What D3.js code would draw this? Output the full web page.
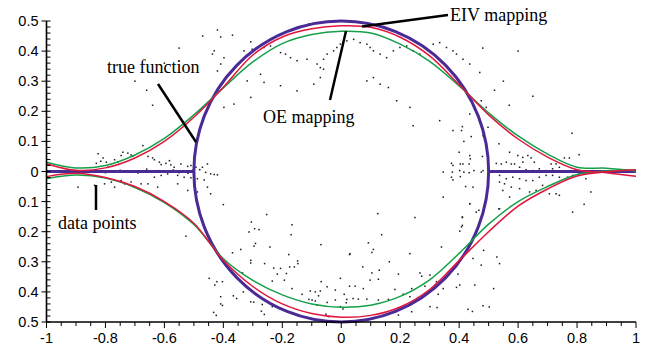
<!DOCTYPE html>
<html><head><meta charset="utf-8">
<script src="https://cdn.jsdelivr.net/npm/d3@7"></script>
<style>body{margin:0;background:#fff}svg{display:block}</style>
</head><body>
<svg id="c" width="648" height="348"></svg>
<script>
// ---- data ----
const xs = [-1,-0.9,-0.8,-0.7,-0.6,-0.5,-0.4,-0.3,-0.2,-0.1,0,0.1,0.2,0.3,0.4,0.5,0.6,0.7,0.8,0.9,1];
const eivUpper = [0.026,0.004,0.012,0.045,0.10,0.18,0.28,0.387,0.447,0.474,0.484,0.479,0.446,0.384,0.288,0.188,0.108,0.048,0.006,-0.004,-0.016];
const eivLower = [-0.017,-0.006,-0.02,-0.05,-0.1,-0.172,-0.295,-0.382,-0.44,-0.472,-0.484,-0.478,-0.45,-0.392,-0.296,-0.2,-0.115,-0.058,-0.015,-0.001,0.006];
const oeUpper = [0.031,0.012,0.02,0.055,0.11,0.188,0.278,0.364,0.425,0.455,0.466,0.46,0.423,0.366,0.284,0.195,0.118,0.058,0.014,0.011,0.002];
const oeLower = [-0.024,-0.012,-0.022,-0.053,-0.103,-0.176,-0.29,-0.362,-0.41,-0.44,-0.451,-0.444,-0.415,-0.36,-0.272,-0.175,-0.1,-0.05,-0.01,0.002,0.004];
const trueCircle = {cx:0, cy:0, r:0.5};
const trueLeft = [[-1,0],[-0.5,0]];
const trueRight = [[0.5,0],[1,0]];
const xTickLabels = ["-1","-0.8","-0.6","-0.4","-0.2","0","0.2","0.4","0.6","0.8","1"];
const xTickValues = [-1,-0.8,-0.6,-0.4,-0.2,0,0.2,0.4,0.6,0.8,1];
const yTickValues = [0.5,0.4,0.3,0.2,0.1,0,-0.1,-0.2,-0.3,-0.4,-0.5];
const yTickLabels = ["0.5","0.4","0.3","0.2","0.1","0","0.1","0.2","0.3","0.4","0.5"];
const dataX = [
-0.409,-0.369,-0.307,-0.431,-0.437,-0.398,-0.33,-0.302,-0.262,-0.24,-0.206,-0.189,-0.172,-0.15,-0.116,-0.082,-0.071,-0.06,-0.048,-0.026,-0.015,-0.003,0.019,0.042,0.064,0.087,0.098,0.109,0.132,0.154,0.177,0.199,0.222,0.244,0.267,0.29,0.312,0.334,0.357,0.379,0.391,0.413,0.436,0.47,0.475,0.492,-0.307,-0.262,-0.206,-0.15,-0.093,-0.071,-0.06,0.087,0.109,0.132,0.16,0.188,0.233,0.244,0.334,0.379,0.436,0.47,-0.398,-0.364,-0.319,-0.274,-0.42,-0.409,-0.11,
-0.7,-0.64,-0.66,-0.55,-0.47,-0.42,-0.6,0.55,0.57,0.52,0.6,0.48,0.65,
-0.4,-0.253,-0.527,-0.305,-0.294,-0.279,-0.313,-0.167,-0.17,-0.291,-0.296,-0.242,-0.341,-0.369,-0.307,-0.307,-0.26,-0.178,-0.148,-0.147,-0.159,-0.175,-0.206,-0.229,-0.186,-0.217,-0.193,-0.234,-0.335,-0.448,-0.422,-0.403,-0.429,-0.409,-0.409,-0.433,-0.366,-0.355,-0.332,-0.307,-0.268,-0.271,-0.234,-0.167,-0.133,-0.105,-0.088,-0.071,-0.02,-0.003,0.03,-0.069,-0.068,-0.048,-0.11,-0.099,-0.088,-0.077,-0.048,-0.02,0.017,-0.003,-0.082,-0.052,-0.043,
0.124,0.25,0.137,0.028,0.092,0.109,0.104,0.163,0.233,0.34,0.411,0.408,0.402,0.436,0.458,0.535,0.483,0.528,0.537,0.475,0.447,0.073,0.104,0.129,0.126,0.098,0.075,0.047,0.028,0.01,0.04,0.019,0.006,0.194,0.182,0.21,0.239,0.267,0.273,0.301,0.284,0.318,0.346,0.391,0.402,0.453,0.517,0.396,0.329,0.323,0.301,0.43,0.481,0.233,0.239,0.194,0.16,0.126,0.087,0.058,
-0.831,-0.816,-0.797,-0.769,-0.747,-0.741,-0.713,-0.707,-0.673,-0.656,-0.64,-0.634,-0.617,-0.611,-0.595,-0.583,-0.578,-0.567,-0.544,-0.521,-0.51,-0.493,-0.471,-0.454,-0.443,-0.431,-0.42,-0.634,-0.611,-0.589,-0.555,-0.533,-0.51,-0.488,-0.465,-0.454,-0.656,-0.679,-0.713,-0.747,-0.78,-0.803,-0.837,-0.769,-0.702,-0.623,-0.555,-0.521,-0.488,-0.443,
-0.62,-0.6,-0.57,-0.55,-0.53,-0.52,-0.505,-0.48,-0.46,-0.66,-0.69,-0.75,-0.8,
0.411,0.408,0.441,0.481,0.498,0.416,0.4,0.436,0.438,0.479,0.374,0.379,0.404,0.413,0.434,0.45,0.475,0.481,0.346,0.377,0.402,0.416,0.434,0.374,0.379,0.404,0.422,0.447,0.411,0.411,0.346,0.436,0.467,0.498,0.535,0.571,0.599,0.616,0.633,0.644,0.655,0.616,0.588,0.56,0.526,0.543,0.577,0.605,0.627,0.65,0.672,0.695,0.717,0.74,0.757,0.774,0.807,0.783,0.712,0.729,0.537,0.56,0.582,0.605,0.627,0.65,0.672,0.695,0.717,0.74,0.762,0.785,0.807,0.83,0.852,0.898,0.537,0.554,0.577,0.605,0.639,0.661,0.683,0.706,0.729,0.74,0.548,0.571,0.537,0.785,0.824,0.847,0.768,0.83,
-0.825,-0.808,-0.724,-0.758,-0.792,-0.735,-0.893,
-0.403,-0.424,-0.297,-0.261,0.325,0.445,0.502];
const dataY = [
0.447,0.453,0.431,0.401,0.39,0.378,0.401,0.406,0.412,0.417,0.395,0.39,0.378,0.368,0.373,0.357,0.345,0.373,0.39,0.401,0.412,0.423,0.434,0.439,0.428,0.423,0.412,0.401,0.39,0.378,0.401,0.412,0.417,0.401,0.39,0.406,0.423,0.428,0.412,0.401,0.39,0.373,0.357,0.329,0.235,0.213,0.246,0.296,0.285,0.268,0.29,0.312,0.34,0.301,0.312,0.29,0.279,0.235,0.213,0.152,0.169,0.136,0.191,0.169,0.213,0.224,0.301,0.323,0.334,0.357,0.49,
0.3,0.22,0.27,0.41,0.45,0.47,0.36,0.3,0.22,0.27,0.4,0.41,0.25,
-0.11,-0.143,-0.215,-0.168,-0.19,-0.193,-0.201,-0.177,-0.21,-0.239,-0.248,-0.251,-0.259,-0.27,-0.295,-0.304,-0.306,-0.276,-0.297,-0.306,-0.317,-0.317,-0.322,-0.321,-0.339,-0.341,-0.361,-0.364,-0.337,-0.355,-0.366,-0.366,-0.377,-0.416,-0.44,-0.468,-0.413,-0.422,-0.4,-0.433,-0.442,-0.464,-0.449,-0.389,-0.408,-0.397,-0.4,-0.397,-0.394,-0.355,-0.273,-0.243,-0.366,-0.383,-0.425,-0.427,-0.43,-0.413,-0.435,-0.427,-0.436,-0.449,-0.444,-0.474,-0.482,
-0.14,-0.153,-0.21,-0.276,-0.237,-0.259,-0.269,-0.3,-0.273,-0.251,-0.153,-0.184,-0.198,-0.107,-0.135,-0.124,-0.262,-0.284,-0.306,-0.311,-0.289,-0.317,-0.337,-0.328,-0.358,-0.361,-0.389,-0.381,-0.381,-0.408,-0.422,-0.425,-0.457,-0.341,-0.392,-0.408,-0.389,-0.337,-0.348,-0.344,-0.381,-0.381,-0.389,-0.385,-0.377,-0.377,-0.389,-0.341,-0.408,-0.366,-0.449,-0.458,-0.446,-0.416,-0.466,-0.477,-0.425,-0.427,-0.424,-0.424,
0.027,0.034,0.031,0.039,0.053,0.064,0.055,0.051,0.086,0.05,0.045,0.039,0.031,0.023,0.027,0.036,0.022,0.014,0.025,0.017,0.02,0.014,0.014,0.025,-0.008,-0.01,-0.011,-0.019,-0.013,-0.008,-0.013,-0.019,-0.021,-0.024,-0.028,-0.052,-0.041,-0.041,-0.035,-0.03,-0.035,-0.041,-0.046,-0.052,-0.052,-0.052,-0.041,-0.063,-0.068,-0.074,
0.003,-0.002,0.005,-0.004,0.002,-0.006,0.004,0.006,-0.003,0.008,-0.005,0.004,-0.004,
0.149,0.136,0.116,0.119,0.147,0.1,0.064,0.053,0.042,0.05,0.027,0.02,0.025,0.025,0.025,0.003,-0.002,0.003,-0.002,-0.002,0.003,-0.002,-0.004,-0.019,-0.028,-0.017,-0.05,-0.052,-0.151,-0.179,-0.085,-0.107,-0.129,-0.052,0.092,0.064,0.053,0.047,0.053,0.045,0.031,0.031,0.025,0.031,0.027,0.025,0.025,0.014,0.006,0.003,0.009,0.003,0.009,0.014,0.045,0.045,0.056,0.127,0.025,0.025,-0.013,-0.024,-0.019,-0.024,-0.03,-0.03,-0.019,-0.013,-0.013,-0.019,-0.024,-0.013,-0.008,-0.008,0.003,-0.002,-0.035,-0.041,-0.052,-0.057,-0.068,-0.063,-0.046,-0.074,-0.074,-0.079,-0.063,-0.085,-0.124,-0.135,-0.109,-0.068,-0.019,-0.024,
0.059,0.045,0.061,0.031,0.014,-0.041,-0.052,
-0.445,-0.478,-0.434,-0.475,-0.452,-0.465,-0.45];

// ---- layout ----
const svg = d3.select("#c");
const x = d3.scaleLinear().domain([-1,1]).range([46.5,636]);
const y = d3.scaleLinear().domain([-0.5,0.5]).range([322,21]);

const purple = "#4a2b96", red = "#e2153c", green = "#14a04a";

// data points
svg.append("g").selectAll("rect").data(dataX.map((d,i)=>[d,dataY[i]])).join("rect")
  .attr("x",d=>x(d[0])-0.75).attr("y",d=>y(d[1])-0.75)
  .attr("width",1.5).attr("height",1.5).attr("fill","#1a1a1a");

// true function
svg.append("ellipse")
  .attr("cx",x(trueCircle.cx)).attr("cy",y(trueCircle.cy))
  .attr("rx",x(trueCircle.r)-x(0)).attr("ry",y(0)-y(trueCircle.r))
  .attr("fill","none").attr("stroke",purple).attr("stroke-width",3);
const lineP = d3.line().x(d=>x(d[0])).y(d=>y(d[1]));
[trueLeft,trueRight].forEach(seg=>{
  svg.append("path").attr("d",lineP(seg)).attr("stroke",purple).attr("stroke-width",3).attr("fill","none");
});

// mappings
const curve = d3.line().x((d,i)=>x(xs[i])).y(d=>y(d)).curve(d3.curveCatmullRom.alpha(0.5));
[[oeUpper,green],[oeLower,green],[eivUpper,red],[eivLower,red]].forEach(([s,c])=>{
  svg.append("path").attr("d",curve(s)).attr("fill","none").attr("stroke",c).attr("stroke-width",1.5);
});

// axes
const ax = svg.append("g").attr("stroke","#000");
ax.append("line").attr("x1",x(-1)).attr("x2",x(1)).attr("y1",y(-0.5)).attr("y2",y(-0.5)).attr("stroke-width",1.6);
ax.append("line").attr("x1",x(-1)).attr("x2",x(-1)).attr("y1",y(-0.5)).attr("y2",y(0.5)).attr("stroke-width",1.6);
d3.range(-1,1.0001,0.05).forEach(v=>{
  const major = Math.abs(Math.round(v*10)/10 - v) < 1e-6 && Math.round(v*10)%2===0;
  ax.append("line").attr("x1",x(v)).attr("x2",x(v)).attr("y1",y(-0.5)).attr("y2",y(-0.5)+(major?6:4)).attr("stroke-width",1);
});
d3.range(-0.5,0.5001,0.02).forEach(v=>{
  ax.append("line").attr("x1",x(-1)).attr("x2",x(-1)+4).attr("y1",y(v)).attr("y2",y(v)).attr("stroke-width",1);
});
yTickValues.forEach(v=>{
  ax.append("line").attr("x1",x(-1)-5).attr("x2",x(-1)).attr("y1",y(v)).attr("y2",y(v)).attr("stroke-width",1);
});
const tl = svg.append("g").attr("font-family","Liberation Sans, Arial, sans-serif").attr("font-size",14.5).attr("fill","#000");
xTickValues.forEach((v,i)=>{
  tl.append("text").attr("x",x(v)).attr("y",343).attr("text-anchor","middle").text(xTickLabels[i]);
});
yTickValues.forEach((v,i)=>{
  tl.append("text").attr("x",38.5).attr("y",y(v)+5).attr("text-anchor","end").text(yTickLabels[i]);
});

// annotations
const an = svg.append("g").attr("stroke","#000").attr("stroke-width",2.5);
an.append("line").attr("x1",362).attr("y1",26.5).attr("x2",448).attr("y2",15);
an.append("line").attr("x1",346).attr("y1",31).attr("x2",330).attr("y2",100);
an.append("line").attr("x1",158).attr("y1",84).attr("x2",196).attr("y2",142);
an.append("line").attr("x1",96).attr("y1",185).attr("x2",96).attr("y2",210);
const at = svg.append("g").attr("font-family","Liberation Serif, Times New Roman, serif").attr("font-size",18).attr("fill","#000");
at.append("text").attr("x",450).attr("y",21).text("EIV mapping");
at.append("text").attr("x",263).attr("y",123).text("OE mapping");
at.append("text").attr("x",107).attr("y",73).text("true function");
at.append("text").attr("x",58).attr("y",229).text("data points");
</script>
</body></html>
